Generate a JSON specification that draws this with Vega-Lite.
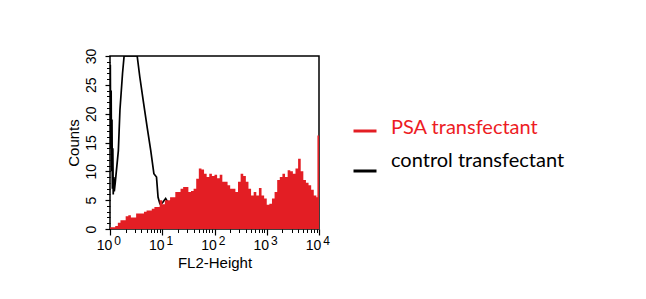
{
  "$schema": "https://vega.github.io/schema/vega-lite/v6.json",
  "width": 209,
  "height": 173,
  "autosize": "none",
  "padding": {"left": 110, "top": 56, "right": 327, "bottom": 70},
  "background": "white",
  "config": {
    "view": {"stroke": "#000000", "strokeWidth": 1.5},
    "axis": {
      "labelFont": "Liberation Sans Narrow, Liberation Sans, sans-serif",
      "titleFont": "Liberation Sans Narrow, Liberation Sans, sans-serif",
      "labelColor": "#000000",
      "titleColor": "#000000",
      "tickColor": "#000000",
      "tickWidth": 1.2,
      "titleFontWeight": "normal",
      "grid": false,
      "domain": false,
      "labelFlush": false,
      "labelOverlap": false
    }
  },
  "datasets": {
    "psa": [
      {"log_fl2": 0.00, "count": 0.3, "series": "PSA transfectant"},
      {"log_fl2": 0.05, "count": 0.3, "series": "PSA transfectant"},
      {"log_fl2": 0.10, "count": 0.5, "series": "PSA transfectant"},
      {"log_fl2": 0.15, "count": 1.1, "series": "PSA transfectant"},
      {"log_fl2": 0.20, "count": 1.5, "series": "PSA transfectant"},
      {"log_fl2": 0.25, "count": 1.5, "series": "PSA transfectant"},
      {"log_fl2": 0.30, "count": 2.2, "series": "PSA transfectant"},
      {"log_fl2": 0.35, "count": 2.4, "series": "PSA transfectant"},
      {"log_fl2": 0.40, "count": 2.0, "series": "PSA transfectant"},
      {"log_fl2": 0.45, "count": 2.0, "series": "PSA transfectant"},
      {"log_fl2": 0.50, "count": 2.7, "series": "PSA transfectant"},
      {"log_fl2": 0.55, "count": 2.7, "series": "PSA transfectant"},
      {"log_fl2": 0.60, "count": 2.7, "series": "PSA transfectant"},
      {"log_fl2": 0.65, "count": 3.0, "series": "PSA transfectant"},
      {"log_fl2": 0.70, "count": 3.2, "series": "PSA transfectant"},
      {"log_fl2": 0.75, "count": 3.2, "series": "PSA transfectant"},
      {"log_fl2": 0.80, "count": 3.5, "series": "PSA transfectant"},
      {"log_fl2": 0.85, "count": 3.8, "series": "PSA transfectant"},
      {"log_fl2": 0.90, "count": 3.8, "series": "PSA transfectant"},
      {"log_fl2": 0.95, "count": 5.0, "series": "PSA transfectant"},
      {"log_fl2": 1.00, "count": 4.3, "series": "PSA transfectant"},
      {"log_fl2": 1.05, "count": 5.0, "series": "PSA transfectant"},
      {"log_fl2": 1.10, "count": 5.0, "series": "PSA transfectant"},
      {"log_fl2": 1.15, "count": 5.5, "series": "PSA transfectant"},
      {"log_fl2": 1.20, "count": 5.5, "series": "PSA transfectant"},
      {"log_fl2": 1.25, "count": 6.4, "series": "PSA transfectant"},
      {"log_fl2": 1.30, "count": 6.4, "series": "PSA transfectant"},
      {"log_fl2": 1.35, "count": 7.0, "series": "PSA transfectant"},
      {"log_fl2": 1.40, "count": 7.3, "series": "PSA transfectant"},
      {"log_fl2": 1.45, "count": 7.3, "series": "PSA transfectant"},
      {"log_fl2": 1.50, "count": 6.4, "series": "PSA transfectant"},
      {"log_fl2": 1.55, "count": 6.6, "series": "PSA transfectant"},
      {"log_fl2": 1.60, "count": 7.0, "series": "PSA transfectant"},
      {"log_fl2": 1.65, "count": 8.7, "series": "PSA transfectant"},
      {"log_fl2": 1.70, "count": 10.5, "series": "PSA transfectant"},
      {"log_fl2": 1.75, "count": 10.3, "series": "PSA transfectant"},
      {"log_fl2": 1.80, "count": 9.6, "series": "PSA transfectant"},
      {"log_fl2": 1.85, "count": 9.0, "series": "PSA transfectant"},
      {"log_fl2": 1.90, "count": 9.6, "series": "PSA transfectant"},
      {"log_fl2": 1.95, "count": 9.2, "series": "PSA transfectant"},
      {"log_fl2": 2.00, "count": 9.4, "series": "PSA transfectant"},
      {"log_fl2": 2.05, "count": 8.8, "series": "PSA transfectant"},
      {"log_fl2": 2.10, "count": 9.4, "series": "PSA transfectant"},
      {"log_fl2": 2.15, "count": 8.2, "series": "PSA transfectant"},
      {"log_fl2": 2.20, "count": 8.2, "series": "PSA transfectant"},
      {"log_fl2": 2.25, "count": 7.6, "series": "PSA transfectant"},
      {"log_fl2": 2.30, "count": 7.0, "series": "PSA transfectant"},
      {"log_fl2": 2.35, "count": 7.0, "series": "PSA transfectant"},
      {"log_fl2": 2.40, "count": 6.4, "series": "PSA transfectant"},
      {"log_fl2": 2.45, "count": 8.2, "series": "PSA transfectant"},
      {"log_fl2": 2.50, "count": 9.6, "series": "PSA transfectant"},
      {"log_fl2": 2.55, "count": 9.2, "series": "PSA transfectant"},
      {"log_fl2": 2.60, "count": 8.2, "series": "PSA transfectant"},
      {"log_fl2": 2.65, "count": 7.0, "series": "PSA transfectant"},
      {"log_fl2": 2.70, "count": 5.8, "series": "PSA transfectant"},
      {"log_fl2": 2.75, "count": 6.4, "series": "PSA transfectant"},
      {"log_fl2": 2.80, "count": 5.8, "series": "PSA transfectant"},
      {"log_fl2": 2.85, "count": 7.1, "series": "PSA transfectant"},
      {"log_fl2": 2.90, "count": 5.8, "series": "PSA transfectant"},
      {"log_fl2": 2.95, "count": 5.3, "series": "PSA transfectant"},
      {"log_fl2": 3.00, "count": 4.2, "series": "PSA transfectant"},
      {"log_fl2": 3.05, "count": 4.4, "series": "PSA transfectant"},
      {"log_fl2": 3.10, "count": 5.3, "series": "PSA transfectant"},
      {"log_fl2": 3.15, "count": 6.4, "series": "PSA transfectant"},
      {"log_fl2": 3.20, "count": 8.5, "series": "PSA transfectant"},
      {"log_fl2": 3.25, "count": 9.0, "series": "PSA transfectant"},
      {"log_fl2": 3.30, "count": 9.6, "series": "PSA transfectant"},
      {"log_fl2": 3.35, "count": 9.0, "series": "PSA transfectant"},
      {"log_fl2": 3.40, "count": 10.2, "series": "PSA transfectant"},
      {"log_fl2": 3.45, "count": 10.0, "series": "PSA transfectant"},
      {"log_fl2": 3.50, "count": 9.6, "series": "PSA transfectant"},
      {"log_fl2": 3.55, "count": 10.5, "series": "PSA transfectant"},
      {"log_fl2": 3.60, "count": 12.2, "series": "PSA transfectant"},
      {"log_fl2": 3.65, "count": 10.0, "series": "PSA transfectant"},
      {"log_fl2": 3.70, "count": 8.5, "series": "PSA transfectant"},
      {"log_fl2": 3.75, "count": 8.0, "series": "PSA transfectant"},
      {"log_fl2": 3.80, "count": 7.6, "series": "PSA transfectant"},
      {"log_fl2": 3.85, "count": 6.8, "series": "PSA transfectant"},
      {"log_fl2": 3.90, "count": 5.8, "series": "PSA transfectant"},
      {"log_fl2": 3.95, "count": 5.5, "series": "PSA transfectant"},
      {"log_fl2": 3.97, "count": 16.2, "series": "PSA transfectant"},
      {"log_fl2": 4.00, "count": 16.2, "series": "PSA transfectant"}
    ],
    "control": [
      {"log_fl2": 0.006, "count": 28.5, "series": "control transfectant"},
      {"log_fl2": 0.014, "count": 14, "series": "control transfectant"},
      {"log_fl2": 0.022, "count": 24, "series": "control transfectant"},
      {"log_fl2": 0.030, "count": 10, "series": "control transfectant"},
      {"log_fl2": 0.038, "count": 19, "series": "control transfectant"},
      {"log_fl2": 0.046, "count": 7, "series": "control transfectant"},
      {"log_fl2": 0.054, "count": 14, "series": "control transfectant"},
      {"log_fl2": 0.062, "count": 6, "series": "control transfectant"},
      {"log_fl2": 0.072, "count": 9, "series": "control transfectant"},
      {"log_fl2": 0.082, "count": 6.5, "series": "control transfectant"},
      {"log_fl2": 0.100, "count": 8, "series": "control transfectant"},
      {"log_fl2": 0.160, "count": 13.6, "series": "control transfectant"},
      {"log_fl2": 0.190, "count": 20.6, "series": "control transfectant"},
      {"log_fl2": 0.240, "count": 27, "series": "control transfectant"},
      {"log_fl2": 0.270, "count": 30, "series": "control transfectant"},
      {"log_fl2": 0.520, "count": 30, "series": "control transfectant"},
      {"log_fl2": 0.570, "count": 26.4, "series": "control transfectant"},
      {"log_fl2": 0.640, "count": 22, "series": "control transfectant"},
      {"log_fl2": 0.710, "count": 17.7, "series": "control transfectant"},
      {"log_fl2": 0.780, "count": 13.6, "series": "control transfectant"},
      {"log_fl2": 0.840, "count": 9.6, "series": "control transfectant"},
      {"log_fl2": 0.890, "count": 9, "series": "control transfectant"},
      {"log_fl2": 0.920, "count": 5.5, "series": "control transfectant"},
      {"log_fl2": 0.955, "count": 4.4, "series": "control transfectant"},
      {"log_fl2": 1.000, "count": 4.5, "series": "control transfectant"},
      {"log_fl2": 1.065, "count": 5.3, "series": "control transfectant"},
      {"log_fl2": 1.150, "count": 4, "series": "control transfectant"},
      {"log_fl2": 1.300, "count": 2, "series": "control transfectant"},
      {"log_fl2": 1.500, "count": 0.5, "series": "control transfectant"},
      {"log_fl2": 1.700, "count": 0, "series": "control transfectant"}
    ]
  },
  "layer": [
    {
      "data": {"name": "control"},
      "mark": {"type": "line", "strokeWidth": 1.7, "clip": true},
      "encoding": {
        "x": {
          "field": "log_fl2", "type": "quantitative",
          "scale": {"domain": [0, 4], "nice": false, "zero": false},
          "axis": {
            "orient": "bottom",
            "values": [0, 1, 2, 3, 4],
            "ticks": false,
            "labelExpr": "'' + datum.value",
            "labelFontSize": 12,
            "labelOffset": 7,
            "labelPadding": 6,
            "title": null
          }
        },
        "y": {
          "field": "count", "type": "quantitative",
          "scale": {"domain": [0, 30], "nice": false},
          "axis": {
            "orient": "left",
            "values": [0,1,2,3,4,5,6,7,8,9,10,11,12,13,14,15,16,17,18,19,20,21,22,23,24,25,26,27,28,29,30],
            "ticks": true,
            "tickSize": 3.5,
            "tickWidth": 1,
            "labels": false,
            "title": null
          }
        },
        "color": {
          "field": "series", "type": "nominal",
          "scale": {"domain": ["PSA transfectant", "control transfectant"], "range": ["#e31e24", "#000000"]},
          "legend": {
            "orient": "none",
            "legendX": 242,
            "legendY": 62,
            "title": null,
            "padding": 0,
            "symbolType": "stroke",
            "symbolSize": 529,
            "symbolStrokeWidth": 3,
            "symbolFillColor": "transparent",
            "labelFont": "Lato",
            "labelFontSize": 20,
            "labelOffset": 13,
            "labelLimit": 400,
            "rowPadding": 13,
            "encode": {
              "symbols": {"update": {
                "stroke": {"signal": "datum.value === 'PSA transfectant' ? '#ed1c24' : '#000000'"},
                "strokeWidth": {"value": 3}
              }},
              "labels": {"update": {
                "fill": {"signal": "datum.value === 'PSA transfectant' ? '#ed1c24' : '#000000'"},
                "dy": {"signal": "datum.value === 'PSA transfectant' ? -3 : -10"}
              }}
            }
          }
        }
      }
    },
    {
      "data": {"name": "psa"},
      "mark": {"type": "area", "interpolate": "step-after", "clip": true},
      "encoding": {
        "x": {
          "field": "log_fl2", "type": "quantitative",
          "scale": {"domain": [0, 4], "nice": false, "zero": false},
          "axis": {
            "orient": "bottom",
            "values": [0, 1, 2, 3, 4],
            "ticks": true,
            "tickSize": 6,
            "labelExpr": "'10'",
            "labelFontSize": 14,
            "labelOffset": -6,
            "labelPadding": 3,
            "title": "FL2-Height",
            "titleFontSize": 15,
            "titlePadding": 3
          }
        },
        "y": {
          "field": "count", "type": "quantitative",
          "scale": {"domain": [0, 30], "nice": false},
          "axis": {
            "orient": "left",
            "values": [0, 5, 10, 15, 20, 25, 30],
            "ticks": true,
            "tickSize": 5,
            "labelAngle": -90,
            "labelAlign": "center",
            "labelBaseline": "alphabetic",
            "labelPadding": 10,
            "labelFontSize": 14,
            "title": "Counts",
            "titleFontSize": 15,
            "titlePadding": 3
          }
        },
        "color": {"field": "series", "type": "nominal"}
      }
    },
    {
      "data": {"name": "psa"},
      "mark": {"type": "point", "opacity": 0},
      "encoding": {
        "x": {
          "field": "log_fl2", "type": "quantitative",
          "scale": {"domain": [0, 4], "nice": false, "zero": false},
          "axis": {
            "orient": "bottom",
            "values": [0.30103, 0.47712, 0.60206, 0.69897, 0.77815, 0.8451, 0.90309, 0.95424,
                       1.30103, 1.47712, 1.60206, 1.69897, 1.77815, 1.8451, 1.90309, 1.95424,
                       2.30103, 2.47712, 2.60206, 2.69897, 2.77815, 2.8451, 2.90309, 2.95424,
                       3.30103, 3.47712, 3.60206, 3.69897, 3.77815, 3.8451, 3.90309, 3.95424],
            "ticks": true,
            "tickSize": 3.5,
            "tickWidth": 1,
            "labels": false,
            "title": null
          }
        },
        "y": {
          "field": "count", "type": "quantitative",
          "scale": {"domain": [0, 30], "nice": false},
          "axis": null
        }
      }
    }
  ],
  "resolve": {"axis": {"x": "independent", "y": "independent"}}
}
